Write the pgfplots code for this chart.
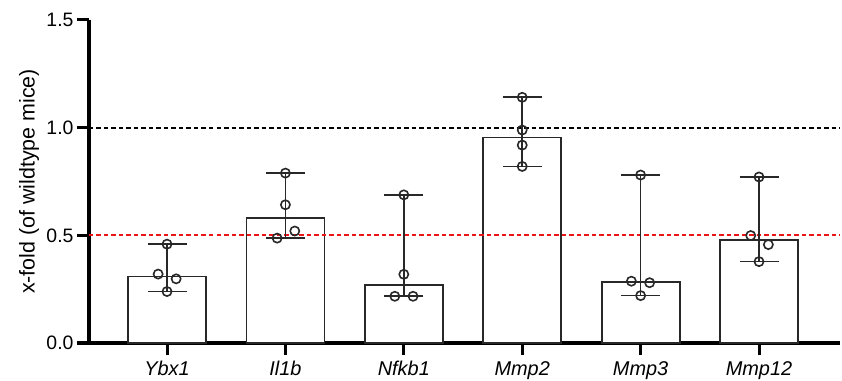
\documentclass[border=0pt]{standalone}
\usepackage{pgfplots}
\pgfplotsset{compat=1.18}
\usepackage{fontspec}
\setmainfont{Liberation Sans}
\definecolor{refred}{RGB}{235,20,25}
\definecolor{barline}{RGB}{40,40,40}
\begin{document}
\begin{tikzpicture}
\begin{axis}[
  name=ax,
  scale only axis,
  width=751bp, height=323bp,
  xmin=-0.659, xmax=5.684,
  ymin=0, ymax=1.5,
  axis x line*=bottom, axis y line*=left,
  x axis line style={line width=3bp, black, -},
  y axis line style={line width=3.4bp, black, -},
  tick align=outside,
  major tick length=12bp,
  major tick style={line width=3bp, black},
  minor tick num=0,
  xtick={0,1,2,3,4,5},
  xticklabels={Ybx1,Il1b,Nfkb1,Mmp2,Mmp3,Mmp12},
  xticklabel style={font=\fontsize{20}{22}\selectfont\itshape, yshift=-3bp},
  ytick={0,0.5,1,1.5},
  yticklabel style={font=\fontsize{19.5}{22}\selectfont, /pgf/number format/fixed, /pgf/number format/fixed zerofill, /pgf/number format/precision=1},
  /pgf/number format/assume math mode=true,
  ylabel={x-fold (of wildtype mice)},
  every axis y label/.style={at={([xshift=-60bp]axis description cs:0,0.5)}, rotate=90, anchor=center, font=\fontsize{21.5}{24}\selectfont},
  clip=false,
]
% bars (median)
\addplot[ybar, bar width=78bp, fill=white, draw=barline, line width=1.8bp]
  coordinates {(0,0.309) (1,0.581) (2,0.268) (3,0.954) (4,0.283) (5,0.478)};
% reference lines
\addplot[color=black, line width=1.9bp, dash pattern=on 4.5bp off 3bp, mark=none] coordinates {(-0.659,1.0) (5.684,1.0)};
\addplot[color=refred, line width=2.1bp, dash pattern=on 4.5bp off 3bp, mark=none] coordinates {(-0.659,0.5) (5.684,0.5)};
% range error bars
\addplot[draw=none, mark=none,
  error bars/.cd, y dir=both, y explicit,
  error mark=|, error mark options={line width=1.7bp, mark size=19.5bp, barline},
  error bar style={line width=1.7bp, barline}]
  coordinates {
  (0,0.309) += (0,0.150) -= (0,0.070)
  (1,0.581) += (0,0.208) -= (0,0.094)
  (2,0.268) += (0,0.420) -= (0,0.051)
  (3,0.954) += (0,0.187) -= (0,0.134)
  (4,0.283) += (0,0.497) -= (0,0.063)
  (5,0.478) += (0,0.293) -= (0,0.100)
  };
% individual points
\addplot[only marks, mark=o, mark size=4.6bp, mark options={line width=1.6bp, draw=barline}]
  coordinates {
  (0,0.459) (-0.075,0.320) (0.077,0.298) (0,0.239)
  (1,0.789) (1,0.642) (1.079,0.520) (0.930,0.487)
  (2,0.688) (2,0.319) (1.924,0.217) (2.078,0.217)
  (3,1.141) (3,0.989) (3,0.919) (3,0.820)
  (4,0.780) (3.922,0.287) (4.076,0.280) (4,0.220)
  (5,0.771) (4.930,0.499) (5.079,0.457) (5,0.378)
  };
\end{axis}
\pgfresetboundingbox
\path[use as bounding box] ([xshift=-89bp,yshift=-38bp]ax.south west) rectangle ([xshift=2bp,yshift=20bp]ax.north east);
\end{tikzpicture}
\end{document}
